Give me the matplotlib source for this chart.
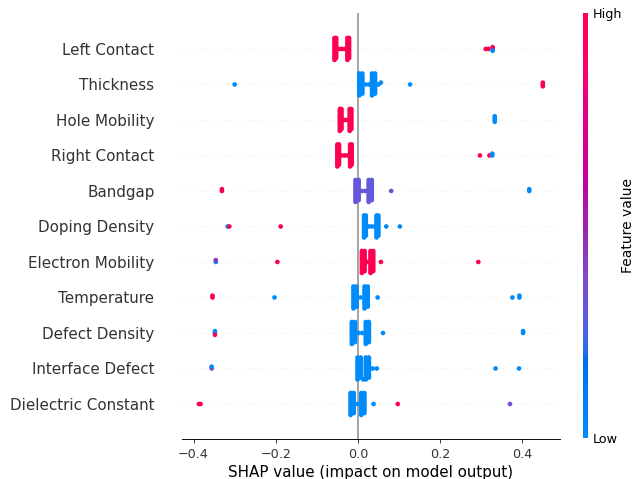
import numpy as np
import matplotlib
matplotlib.use("Agg")
from matplotlib import pyplot as plt
from matplotlib.colors import ListedColormap
from matplotlib import cm

# feature names, bottom row first
features = ["Dielectric Constant", "Interface Defect", "Defect Density", "Temperature",
            "Electron Mobility", "Doping Density", "Bandgap", "Right Contact",
            "Hole Mobility", "Thickness", "Left Contact"]

# (shap value, number of samples, feature value 0=low .. 1=high)
left_contact = [(-0.057, 13, 1.0), (-0.053, 12, 1.0), (-0.046, 1, 1.0), (-0.039, 1, 1.0),
                (-0.032, 1, 1.0), (-0.0255, 13, 1.0), (-0.0215, 12, 1.0),
                (0.311, 1, 1.0), (0.318, 1, 1.0),
                (0.328, 1, 0.0), (0.328, 1, 1.0), (0.328, 1, 0.0)]
thickness = [(-0.30, 1, 0.0), (0.0033, 13, 0.0), (0.0107, 12, 0.0), (0.019, 1, 0.0),
             (0.027, 1, 0.0), (0.0343, 13, 0.0), (0.0417, 12, 0.0),
             (0.050, 1, 0.0), (0.056, 1, 0.0), (0.127, 1, 0.0),
             (0.45, 1, 0.5), (0.45, 1, 1.0), (0.45, 1, 1.0)]
hole_mobility = [(-0.044, 13, 1.0), (-0.040, 12, 1.0), (-0.033, 1, 1.0), (-0.027, 1, 1.0),
                 (-0.020, 13, 1.0), (-0.016, 12, 1.0), (0.333, 4, 0.0)]
right_contact = [(-0.050, 13, 1.0), (-0.046, 12, 1.0), (-0.039, 1, 1.0), (-0.032, 1, 1.0),
                 (-0.025, 1, 1.0), (-0.019, 13, 1.0), (-0.015, 12, 1.0),
                 (0.297, 1, 1.0), (0.320, 1, 1.0), (0.327, 2, 0.0)]
bandgap = [(-0.331, 2, 1.0), (-0.0058, 13, 0.3), (0.0018, 12, 0.3), (0.010, 1, 0.3),
           (0.018, 1, 0.3), (0.0262, 13, 0.3), (0.0338, 12, 0.3),
           (0.081, 1, 0.35), (0.417, 2, 0.0)]
doping_density = [(-0.317, 1, 0.0), (-0.313, 1, 1.0), (-0.188, 1, 1.0),
                  (0.015, 13, 0.0), (0.0193, 12, 0.0), (0.026, 1, 0.0), (0.033, 1, 0.0),
                  (0.040, 1, 0.0), (0.0453, 13, 0.0), (0.0497, 12, 0.0),
                  (0.069, 1, 0.0), (0.102, 1, 0.0)]
electron_mobility = [(-0.346, 1, 0.0), (-0.346, 1, 0.45), (-0.196, 1, 1.0),
                     (0.0097, 13, 1.0), (0.0163, 12, 1.0), (0.0235, 1, 1.0),
                     (0.0307, 13, 1.0), (0.0373, 12, 1.0), (0.056, 1, 1.0), (0.293, 1, 1.0)]
temperature = [(-0.354, 2, 1.0), (-0.203, 1, 0.0), (-0.0108, 13, 0.0), (-0.0032, 12, 0.0),
               (0.0065, 1, 0.0), (0.0162, 13, 0.0), (0.0238, 12, 0.0), (0.048, 1, 0.0),
               (0.376, 1, 0.0), (0.393, 2, 0.0)]
defect_density = [(-0.348, 2, 0.0), (-0.348, 1, 1.0), (-0.0148, 13, 0.0), (-0.0072, 12, 0.0),
                  (0.0016, 1, 0.0), (0.0104, 1, 0.0), (0.0192, 13, 0.0), (0.0268, 12, 0.0),
                  (0.061, 1, 0.0), (0.402, 2, 0.0)]
interface_defect = [(-0.356, 1, 0.4), (-0.356, 1, 0.0), (-0.0008, 13, 0.0), (0.0068, 12, 0.0),
                    (0.013, 1, 0.0), (0.0192, 13, 0.0), (0.0268, 12, 0.0), (0.036, 1, 0.0),
                    (0.046, 1, 0.0), (0.335, 1, 0.0), (0.392, 1, 0.0)]
dielectric_constant = [(-0.387, 1, 1.0), (-0.383, 1, 1.0), (-0.0178, 13, 0.0),
                       (-0.0102, 12, 0.0), (-0.001, 1, 0.0), (0.0082, 13, 0.0),
                       (0.0158, 12, 0.0), (0.038, 1, 0.0), (0.097, 1, 1.0), (0.370, 1, 0.35)]

rows = [dielectric_constant, interface_defect, defect_density, temperature,
        electron_mobility, doping_density, bandgap, right_contact,
        hole_mobility, thickness, left_contact]


def lab_to_rgb(L, a, b):
    fy = (L + 16) / 116
    fx = fy + a / 500
    fz = fy - b / 200
    eps = 6 / 29
    finv = lambda t: np.where(t > eps, t ** 3, 3 * eps ** 2 * (t - 4 / 29))
    X, Y, Z = 0.95047 * finv(fx), finv(fy), 1.08883 * finv(fz)
    r = 3.2406 * X - 1.5372 * Y - 0.4986 * Z
    g = -0.9689 * X + 1.8758 * Y + 0.0415 * Z
    bl = 0.0557 * X - 0.2040 * Y + 1.0570 * Z
    rgb = np.stack([r, g, bl], -1)
    rgb = np.where(rgb > 0.0031308,
                   1.055 * np.power(np.clip(rgb, 0.0031308, None), 1 / 2.4) - 0.055,
                   12.92 * rgb)
    return np.clip(rgb, 0, 1)


# shap style red/blue map, interpolated in LCh
num = 200
l_vals = np.concatenate((np.linspace(54., 40., num // 2), np.linspace(40., 54., num // 2)))
c_vals = np.linspace(70., 90., num)
h_vals = np.linspace(4.6588, 0.35470565 + 2 * np.pi, num)
red_blue = ListedColormap(lab_to_rgb(l_vals, c_vals * np.cos(h_vals), c_vals * np.sin(h_vals)))

axis_color = "#333333"
row_height = 0.4

dpi = 83.5
fig = plt.figure(figsize=(634 / dpi, 479 / dpi), dpi=dpi)
ax = fig.add_axes([0.2866, 0.0825, 0.5967, 0.8894])
ax.axvline(x=0, color="#999999", zorder=-1)

for pos, clusters in enumerate(rows):
    ax.axhline(y=pos, color="#cccccc", lw=0.5, dashes=(1, 5), zorder=-1)
    shaps = np.repeat([c[0] for c in clusters], [c[1] for c in clusters])
    cvals = np.repeat([c[2] for c in clusters], [c[1] for c in clusters])
    N = len(shaps)
    nbins = 100
    quant = np.round(nbins * (shaps - shaps.min()) / (shaps.max() - shaps.min() + 1e-8))
    inds = np.argsort(quant, kind="stable")
    layer = 0
    last_bin = -1
    ys = np.zeros(N)
    for ind in inds:
        if quant[ind] != last_bin:
            layer = 0
        ys[ind] = np.ceil(layer / 2) * ((layer % 2) * 2 - 1)
        layer += 1
        last_bin = quant[ind]
    ys *= 0.9 * (row_height / np.max(ys + 1))
    ax.scatter(shaps, pos + ys, cmap=red_blue, vmin=0, vmax=1, s=16, c=cvals,
               linewidth=0, zorder=3)

ax.xaxis.set_ticks_position("bottom")
ax.yaxis.set_ticks_position("none")
for side in ["right", "top", "left"]:
    ax.spines[side].set_visible(False)
ax.tick_params(color=axis_color, labelcolor=axis_color)
ax.set_yticks(range(len(features)))
ax.set_yticklabels(features, fontsize=13)
ax.tick_params("y", length=20, width=0.5, which="major")
ax.tick_params("x", labelsize=11)
ax.set_ylim(-1, len(features))
ax.set_xlabel("SHAP value (impact on model output)", fontsize=13)

cax = fig.add_axes([0.919, 0.085, 0.0089, 0.887])
m = cm.ScalarMappable(cmap=red_blue)
m.set_array([0, 1])
cb = fig.colorbar(m, cax=cax, ticks=[0, 1])
cb.set_ticklabels(["Low", "High"])
cb.set_label("Feature value", size=12, labelpad=-1)
cb.ax.tick_params(labelsize=11, length=0)
cb.outline.set_visible(False)

plt.savefig("out.png", dpi=dpi)
